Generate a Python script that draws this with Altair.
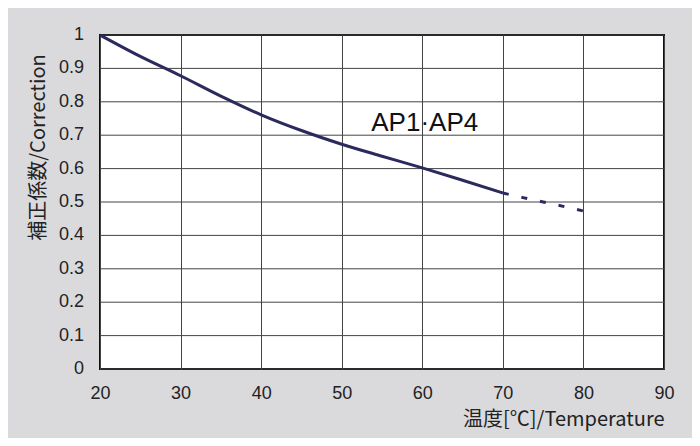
import altair as alt
import pandas as pd

temp_solid = [20, 25, 30, 35, 40, 45, 50, 55, 60, 65, 70]
corr_solid = [1.0, 0.936, 0.878, 0.817, 0.761, 0.714, 0.673, 0.637, 0.602, 0.565, 0.527]
temp_dash = [70, 72.5, 75, 77.5, 80]
corr_dash = [0.527, 0.513, 0.500, 0.487, 0.473]
label_text = ["AP1·AP4"]
label_x = [60.3]
label_y = [0.737]

x_ticks = [20, 30, 40, 50, 60, 70, 80, 90]
y_ticks = [0, 0.1, 0.2, 0.3, 0.4, 0.5, 0.6, 0.7, 0.8, 0.9, 1.0]
y_tick_labels = ["0", "0.1", "0.2", "0.3", "0.4", "0.5", "0.6", "0.7", "0.8", "0.9", "1"]

solid_df = pd.DataFrame({"t": temp_solid, "c": corr_solid})
dash_df = pd.DataFrame({"t": temp_dash, "c": corr_dash})
label_df = pd.DataFrame({"t": label_x, "c": label_y, "s": label_text})
ytick_df = pd.DataFrame({"t": [20] * len(y_ticks), "c": y_ticks, "s": y_tick_labels})

LINE_COLOR = "#2b2a5c"
GRID = "#444"

x_scale = alt.Scale(domain=[20, 90], nice=False)
y_scale = alt.Scale(domain=[0, 1], nice=False)

x_enc = alt.X("t:Q", scale=x_scale,
              axis=alt.Axis(values=x_ticks, title="温度[℃]/Temperature",
                            titleAnchor="end", titleY=40, titleBaseline="top",
                            titleFont="Noto Sans CJK JP", titleFontSize=20,
                            titleFontWeight="normal", titleColor="#222",
                            labelFont="Liberation Sans", labelFontSize=18,
                            labelColor="#222", labelPadding=15, labelFlush=False,
                            ticks=False, domain=False, grid=True,
                            gridColor=GRID, gridWidth=1))
y_enc = alt.Y("c:Q", scale=y_scale,
              axis=alt.Axis(title="補正係数/Correction", labels=False,
                            titleX=-62, titleY=112, titleAngle=-90,
                            titleAlign="center", titleBaseline="middle",
                            titleFont="Noto Sans CJK JP", titleFontSize=20,
                            titleFontWeight="normal", titleColor="#222",
                            ticks=False, domain=False, grid=False))

grid_y = alt.Chart(ytick_df).mark_rule(color=GRID, strokeWidth=1).encode(
    y=alt.Y("c:Q", scale=y_scale))
ylabels = alt.Chart(ytick_df).mark_text(
    font="Liberation Sans", fontSize=18, color="#222", align="right",
    baseline="middle", dx=-16).encode(
    x=alt.X("t:Q", scale=x_scale), y=alt.Y("c:Q", scale=y_scale), text="s:N")
solid = alt.Chart(solid_df).mark_line(color=LINE_COLOR, strokeWidth=3, interpolate="monotone").encode(
    x=x_enc, y=y_enc)
dashed = alt.Chart(dash_df).mark_line(color=LINE_COLOR, strokeWidth=3, strokeDash=[6, 13]).encode(
    x=x_enc, y=y_enc)
label = alt.Chart(label_df).mark_text(font="Liberation Sans", fontSize=26, color="#111").encode(
    x=x_enc, y=y_enc, text="s:N")

chart = alt.layer(grid_y, solid, dashed, label, ylabels).properties(
    width=564, height=334,
    background="#dadadd",
    autosize=alt.AutoSizeParams(type="none"),
    padding={"left": 92, "top": 27, "right": 28, "bottom": 69},
).configure_view(stroke="#111", strokeWidth=2, fill="white")

chart.save("out.html", embed_options={"renderer": "svg", "actions": False})
